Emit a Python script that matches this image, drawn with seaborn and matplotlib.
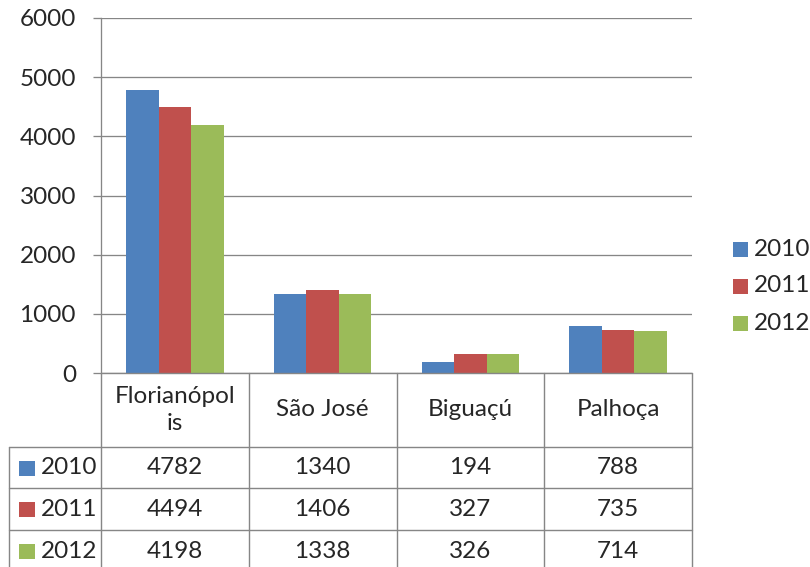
import matplotlib
matplotlib.use("Agg")
import matplotlib.pyplot as plt
import seaborn as sns
import pandas as pd
from matplotlib.patches import Rectangle

# Data
cities = ["Florianópolis", "São José", "Biguaçú", "Palhoça"]
city_labels = ["Florianópol\nis", "São José", "Biguaçú", "Palhoça"]
years = ["2010", "2011", "2012"]
v2010 = [4782, 1340, 194, 788]
v2011 = [4494, 1406, 327, 735]
v2012 = [4198, 1338, 326, 714]
yticks = [0, 1000, 2000, 3000, 4000, 5000, 6000]
colors = ["#4F81BD", "#C0504D", "#9BBB59"]

series = {"2010": v2010, "2011": v2011, "2012": v2012}
rows = []
for yr in years:
    for c, v in zip(cities, series[yr]):
        rows.append({"city": c, "year": yr, "value": v})
df = pd.DataFrame(rows)

sns.set_style("white")
plt.rcParams["font.family"] = ["Lato", "DejaVu Sans"]
FS = 17.5
GRID = "#868686"
PX = 72 / 100  # points per pixel

W, H = 810, 567
fig = plt.figure(figsize=(W / 100, H / 100), dpi=100)

# plot area in pixel coordinates
L, R, T, B = 101, 692, 18, 373
ax = fig.add_axes([L / W, 1 - B / H, (R - L) / W, (B - T) / H])
sns.barplot(data=df, x="city", y="value", hue="year", order=cities,
            hue_order=years, palette=colors, width=0.66, saturation=1,
            ax=ax, legend=False, errorbar=None)
ax.set_xlim(-0.5, len(cities) - 0.5)
ax.set_ylim(0, 6000)
ax.set_yticks(yticks)
ax.set_yticklabels([str(t) for t in yticks], fontsize=FS)
ax.set_xticks([])
ax.set_xlabel("")
ax.set_ylabel("")
for t in yticks:
    ax.axhline(t, color=GRID, lw=1.3 * PX, zorder=0)
for s in ["top", "right", "bottom"]:
    ax.spines[s].set_visible(False)
ax.spines["left"].set_color(GRID)
ax.spines["left"].set_linewidth(1.3 * PX)
ax.tick_params(axis="y", length=8 * PX, width=1.3 * PX, color=GRID,
               pad=17 * PX, left=True)
for p in ax.patches:
    p.set_edgecolor("none")

# overlay for data table and legend, in pixel coordinates
ov = fig.add_axes([0, 0, 1, 1], facecolor="none")
ov.set_xlim(0, W)
ov.set_ylim(H, 0)
ov.axis("off")

col_x = [L + (R - L) * i / len(cities) for i in range(len(cities) + 1)]
row_y = [373, 447, 488, 530, 572]
tbl_left = 9
lw = 1.4 * PX
# horizontal lines
ov.plot([L, R], [row_y[0], row_y[0]], color=GRID, lw=lw)
for y in row_y[1:4]:
    ov.plot([tbl_left, R], [y, y], color=GRID, lw=lw)
# vertical lines
for x in col_x:
    ov.plot([x, x], [row_y[0], H + 5], color=GRID, lw=lw)
ov.plot([tbl_left, tbl_left], [row_y[1], H + 5], color=GRID, lw=lw)

# header row
for i, lab in enumerate(city_labels):
    cx = (col_x[i] + col_x[i + 1]) / 2
    ov.text(cx, (row_y[0] + row_y[1]) / 2, lab, ha="center", va="center",
            fontsize=FS, linespacing=1.35)

# data rows
for r, yr in enumerate(years):
    cy = (row_y[r + 1] + row_y[r + 2]) / 2
    ov.add_patch(Rectangle((19, cy - 7), 16, 15, color=colors[r], lw=0))
    ov.text(41, cy, yr, ha="left", va="center", fontsize=FS)
    for i, v in enumerate(series[yr]):
        cx = (col_x[i] + col_x[i + 1]) / 2
        ov.text(cx, cy, str(v), ha="center", va="center", fontsize=FS)

# legend on the right
for r, yr in enumerate(years):
    cy = 249 + r * 37
    ov.add_patch(Rectangle((733, cy - 7), 15, 15, color=colors[r], lw=0))
    ov.text(754, cy, yr, ha="left", va="center", fontsize=FS)

fig.savefig("out.png", dpi=100)
